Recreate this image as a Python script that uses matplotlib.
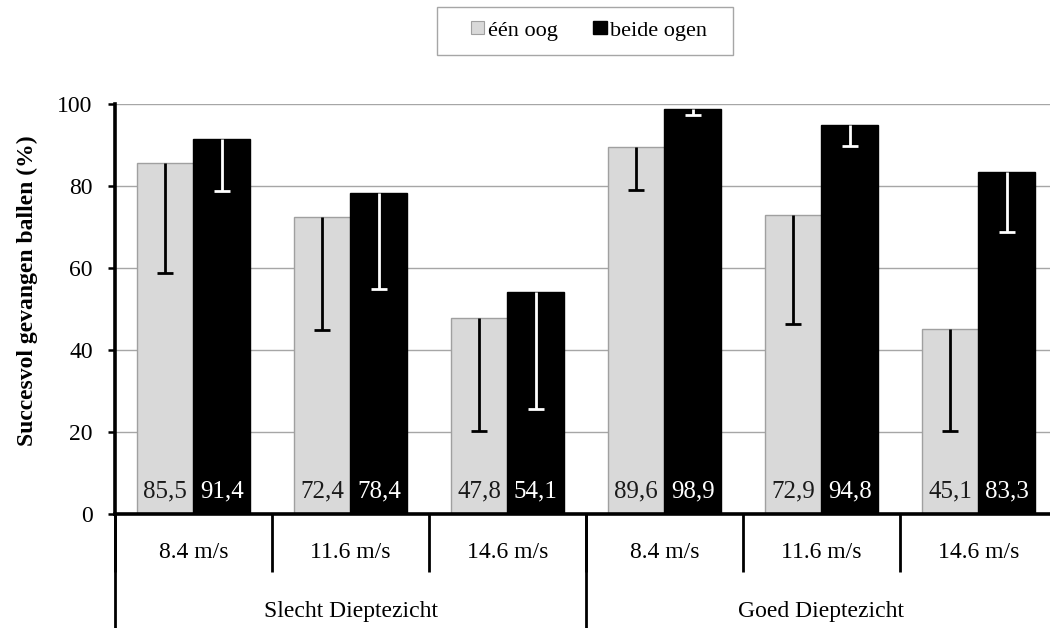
import matplotlib
matplotlib.use("Agg")
import matplotlib.pyplot as plt
from matplotlib.patches import Rectangle, Patch
import numpy as np

plt.rcParams['font.family'] = ['Liberation Serif', 'DejaVu Serif']

speeds = ["8.4 m/s", "11.6 m/s", "14.6 m/s", "8.4 m/s", "11.6 m/s", "14.6 m/s"]
groups = ["Slecht Dieptezicht", "Goed Dieptezicht"]
series_names = ["één oog", "beide ogen"]
een_oog = [85.5, 72.4, 47.8, 89.6, 72.9, 45.1]
beide_ogen = [91.4, 78.4, 54.1, 98.9, 94.8, 83.3]
een_oog_lower = [58.8, 45.0, 20.3, 79.1, 46.3, 20.2]
beide_ogen_lower = [78.7, 55.0, 25.5, 97.4, 89.8, 68.7]
labels_een = ["85,5", "72,4", "47,8", "89,6", "72,9", "45,1"]
labels_beide = ["91,4", "78,4", "54,1", "98,9", "94,8", "83,3"]
yticks = [0, 20, 40, 60, 80, 100]

W, H = 1050, 628
fig = plt.figure(figsize=(W / 100, H / 100), dpi=100)
ax = fig.add_axes([115 / W, (H - 514) / H, 942 / W, 410 / H])

FS = 17
FS_VAL = 18
FS_LEG = 16
light = "#D9D9D9"
x = np.arange(len(speeds))
bw = 0.363
off = 0.181

ax.bar(x - off, een_oog, width=bw, color=light, edgecolor="#A0A0A0", linewidth=1, zorder=2)
ax.bar(x + off, beide_ogen, width=bw, color="black", edgecolor="black", linewidth=1, zorder=2)

for xs, top, low, col in [(x - off, een_oog, een_oog_lower, "black"),
                          (x + off, beide_ogen, beide_ogen_lower, "white")]:
    ax.vlines(xs, low, top, colors=col, linewidth=2, zorder=3)
    ax.plot(xs, low, linestyle="none", marker="_", markersize=12, markeredgewidth=2,
            color=col, zorder=3)

for i in range(len(x)):
    ax.annotate(labels_een[i], xy=(x[i] - off, 0), xytext=(0, 12), textcoords="offset points",
                ha="center", va="baseline", fontsize=FS_VAL, color="#1a1a1a", zorder=4)
    ax.annotate(labels_beide[i], xy=(x[i] + off, 0), xytext=(0, 12), textcoords="offset points",
                ha="center", va="baseline", fontsize=FS_VAL, color="white", zorder=4)

ax.set_xlim(-0.5, len(speeds) - 0.5)
ax.set_ylim(0, 100)
ax.set_yticks(yticks)
ax.set_yticklabels([str(t) for t in yticks], fontsize=FS)
ax.yaxis.grid(True, color="#A6A6A6", linewidth=1, zorder=0)
ax.set_axisbelow(True)
ax.tick_params(axis="y", direction="out", length=5, width=1.8, pad=11)
ax.set_xticks([])
for s in ["top", "right"]:
    ax.spines[s].set_visible(False)
ax.spines["left"].set_linewidth(2.6)
ax.spines["bottom"].set_linewidth(2.6)

trans = ax.get_xaxis_transform()
for i, s in enumerate(speeds):
    ax.text(x[i], -0.095, s, transform=trans, ha="center", va="center", fontsize=FS, clip_on=False)
for b in np.arange(len(speeds) + 1) - 0.5:
    ax.plot([b, b], [0, -0.141], transform=trans, color="black", lw=2, clip_on=False,
            solid_capstyle="butt")
n_per = len(speeds) // len(groups)
for g, name in enumerate(groups):
    ax.text(g * n_per + (n_per - 1) / 2, -0.237, name, transform=trans, ha="center", va="center",
            fontsize=FS, clip_on=False)
for g in range(len(groups) + 1):
    b = g * n_per - 0.5
    ax.plot([b, b], [0, -0.3], transform=trans, color="black", lw=2, clip_on=False,
            solid_capstyle="butt")

fig.text(27 / W, 1 - 291 / H, "Succesvol gevangen ballen (%)", rotation=90, ha="center",
         va="center", fontsize=FS, fontweight="bold")

fig.patches.append(Rectangle((437 / W, 1 - 55 / H), 296 / W, 48 / H, transform=fig.transFigure,
                             facecolor="white", edgecolor="#A6A6A6", linewidth=1))
handles = [Patch(facecolor=light, edgecolor="#A0A0A0", linewidth=0.8),
           Patch(facecolor="black", edgecolor="black")]
fig.legend(handles, series_names, loc="center", bbox_to_anchor=(589 / W, 1 - 31 / H), ncol=2,
           frameon=False, fontsize=FS_LEG, handlelength=0.6, handleheight=0.48, handletextpad=0.15,
           columnspacing=1.6, borderpad=0)

fig.savefig("out.png", dpi=100)
